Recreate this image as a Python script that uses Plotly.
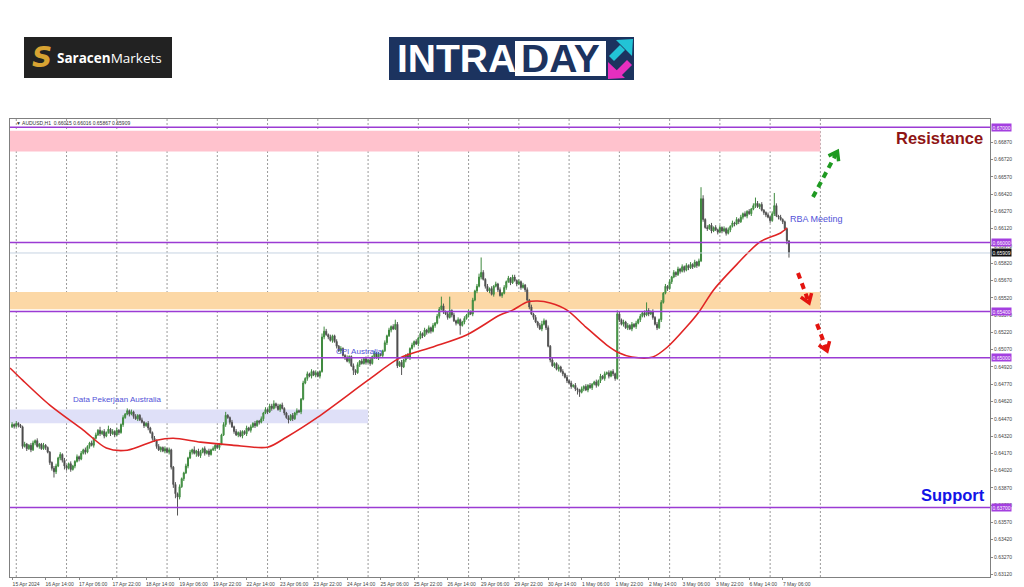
import math
import plotly.graph_objects as go

# ---------------- data ----------------
time_labels = ["15 Apr 2024", "16 Apr 14:00", "17 Apr 06:00", "17 Apr 22:00", "18 Apr 14:00",
               "19 Apr 06:00", "19 Apr 22:00", "22 Apr 14:00", "23 Apr 06:00", "23 Apr 22:00",
               "24 Apr 14:00", "25 Apr 06:00", "25 Apr 22:00", "26 Apr 14:00", "29 Apr 06:00",
               "29 Apr 22:00", "30 Apr 14:00", "1 May 06:00", "1 May 22:00", "2 May 14:00",
               "3 May 06:00", "3 May 22:00", "6 May 14:00", "7 May 06:00"]
label_bars = [0, 16, 32, 48, 64, 80, 96, 112, 128, 144, 160, 176, 192, 208, 224, 240,
              256, 272, 288, 304, 320, 336, 352, 368]
grid_bars = [2, 26, 50, 74, 98, 122, 146, 170, 194, 218, 242, 266, 290, 314, 338, 362, 386]

# hourly closes, in units of 0.00001
first_open = 64400
closes = [
    64420, 64405, 64430, 64415, 64400, 64230, 64250, 64210, 64240, 64200, 64260, 64280, 64230, 64250, 64210, 64240, 64220, 64180, 64090, 64040, 64010, 64060, 64130, 64160,
    64110, 64060, 64040, 64080, 64030, 64060, 64100, 64140, 64120, 64170, 64200, 64180, 64230, 64260, 64240, 64300, 64330, 64370, 64340, 64360, 64320, 64350, 64380, 64340,
    64360, 64330, 64370, 64350, 64420, 64480, 64510, 64540, 64510, 64530, 64490, 64470, 64500, 64460, 64440, 64410, 64430, 64390, 64350, 64300, 64280, 64230, 64200, 64220,
    64190, 64210, 64180, 64200, 64050, 63900, 63820, 63790, 63880, 63950, 64000, 64060, 64130, 64180, 64200, 64170, 64190, 64150, 64180, 64210, 64170, 64190, 64160, 64200,
    64210, 64240, 64220, 64250, 64330, 64420, 64500, 64480, 64440, 64400, 64360, 64330, 64350, 64320, 64360, 64340, 64390, 64370, 64400, 64430, 64410, 64450, 64440, 64470,
    64520, 64550, 64530, 64580, 64560, 64600, 64580, 64550, 64590, 64560, 64520, 64480, 64460, 64500, 64470, 64520, 64540, 64530, 64640, 64780, 64820, 64860, 64840, 64880,
    64850, 64870, 64840, 64880, 65180, 65230, 65200, 65180, 65150, 65190, 65140, 65100, 65060, 65080, 65020, 65000, 64970, 65010, 64930, 64890, 64870, 64940, 64970, 64950,
    64990, 64960, 64980, 64950, 65010, 65040, 65000, 65030, 65020, 65060, 65130, 65190, 65240, 65270, 65250, 65290, 64930, 64960, 64920, 64980, 65020, 65000, 65080, 65110,
    65140, 65120, 65170, 65210, 65190, 65240, 65220, 65260, 65230, 65280, 65300, 65360, 65420, 65450, 65400, 65380, 65350, 65410, 65370, 65320, 65300, 65330, 65280, 65310,
    65340, 65370, 65400, 65380, 65500, 65580, 65620, 65700, 65740, 65680, 65620, 65580, 65600, 65550, 65620, 65640, 65590, 65540, 65560, 65610, 65660, 65690, 65650, 65700,
    65670, 65640, 65660, 65610, 65630, 65590, 65500, 65440, 65380, 65350, 65310, 65280, 65250, 65290, 65320, 65260, 65100, 64980, 64930, 64950, 64900, 64920, 64880, 64860,
    64830, 64800, 64780, 64750, 64760, 64730, 64720, 64700, 64730, 64750, 64720, 64760, 64740, 64770, 64790, 64760, 64800, 64840, 64820, 64860, 64870, 64840, 64880, 64860,
    64820, 65380, 65330, 65290, 65310, 65260, 65280, 65250, 65290, 65270, 65300, 65330, 65360, 65390, 65370, 65410, 65380, 65400, 65350, 65290, 65260, 65330, 65480, 65560,
    65620, 65600, 65660, 65700, 65740, 65720, 65770, 65750, 65790, 65760, 65800, 65780, 65810, 65790, 65830, 65800, 65840, 66380, 66200, 66130, 66120, 66150, 66100, 66130,
    66110, 66090, 66130, 66100, 66120, 66080, 66110, 66140, 66170, 66160, 66200, 66180, 66220, 66250, 66230, 66270, 66250, 66290, 66320, 66340, 66310, 66330, 66280, 66260,
    66240, 66220, 66190, 66250, 66320, 66230, 66220, 66200, 66180, 66120, 66015, 65909,
]
# wick lengths beyond the body, in pips
wick_up = [
    2, 1, 2, 1, 1, 1, 2, 1, 1, 2, 2, 1, 2, 1, 1, 2, 1, 1, 1, 1, 2, 2, 1, 2,
    1, 2, 1, 1, 2, 1, 1, 2, 1, 2, 1, 2, 1, 1, 2, 1, 2, 1, 3, 1, 2, 1, 3, 1,
    2, 1, 2, 1, 1, 2, 1, 2, 1, 2, 1, 2, 1, 1, 2, 1, 1, 2, 1, 1, 2, 1, 2, 1,
    1, 2, 1, 2, 1, 1, 2, 1, 2, 1, 1, 2, 1, 2, 1, 3, 1, 2, 2, 1, 2, 1, 2, 1,
    2, 1, 2, 1, 1, 2, 3, 1, 1, 2, 1, 2, 1, 2, 1, 1, 2, 1, 2, 1, 2, 1, 1, 2,
    1, 2, 1, 2, 2, 3, 1, 2, 1, 2, 1, 1, 2, 1, 2, 1, 2, 1, 1, 2, 1, 2, 1, 2,
    1, 2, 1, 1, 3, 4, 2, 1, 2, 1, 1, 2, 1, 2, 1, 1, 2, 1, 1, 2, 1, 2, 1, 2,
    1, 2, 1, 2, 1, 2, 1, 2, 1, 1, 2, 1, 2, 1, 2, 4, 2, 1, 2, 1, 1, 2, 1, 2,
    1, 2, 1, 2, 1, 2, 1, 2, 1, 2, 1, 2, 2, 8, 2, 1, 2, 12, 1, 2, 1, 2, 1, 1,
    2, 1, 2, 1, 2, 1, 2, 3, 13, 2, 1, 2, 1, 2, 1, 2, 1, 2, 1, 2, 1, 2, 1, 2,
    2, 1, 2, 1, 2, 1, 2, 1, 2, 1, 2, 1, 2, 3, 2, 1, 2, 1, 2, 1, 1, 2, 1, 2,
    1, 2, 1, 2, 1, 2, 1, 1, 2, 1, 2, 1, 2, 1, 1, 2, 1, 2, 1, 2, 1, 2, 1, 2,
    1, 3, 2, 1, 2, 1, 2, 1, 2, 1, 2, 1, 2, 1, 2, 7, 2, 1, 2, 1, 2, 1, 2, 1,
    2, 1, 2, 1, 2, 1, 2, 1, 2, 1, 2, 1, 2, 1, 2, 1, 2, 10, 3, 1, 2, 1, 2, 1,
    2, 1, 2, 1, 2, 1, 2, 1, 2, 1, 2, 1, 2, 1, 2, 1, 2, 1, 2, 5, 2, 1, 2, 1,
    1, 2, 1, 2, 11, 2, 1, 2, 1, 1, 1, 0,
]
wick_dn = [
    1, 2, 1, 2, 1, 2, 1, 2, 1, 2, 1, 2, 1, 2, 1, 1, 2, 1, 2, 2, 5, 2, 1, 2,
    2, 3, 2, 1, 2, 1, 2, 1, 2, 1, 1, 2, 1, 2, 1, 2, 1, 1, 2, 1, 2, 1, 1, 2,
    1, 2, 1, 2, 1, 2, 1, 1, 2, 1, 2, 1, 2, 1, 1, 2, 1, 2, 1, 2, 1, 2, 1, 2,
    1, 2, 1, 2, 2, 3, 4, 16, 2, 1, 2, 1, 2, 1, 2, 1, 3, 1, 2, 1, 2, 1, 2, 1,
    1, 2, 1, 2, 1, 1, 2, 1, 2, 1, 2, 1, 2, 1, 2, 1, 2, 1, 2, 1, 2, 1, 2, 1,
    2, 1, 2, 1, 2, 1, 2, 1, 2, 1, 2, 1, 3, 1, 2, 1, 2, 1, 2, 1, 1, 2, 1, 2,
    1, 2, 1, 2, 1, 2, 1, 2, 1, 2, 1, 2, 1, 2, 1, 2, 1, 2, 1, 4, 2, 1, 2, 1,
    1, 2, 1, 2, 1, 2, 1, 2, 1, 2, 1, 2, 1, 2, 1, 1, 2, 1, 7, 1, 2, 1, 2, 1,
    2, 1, 2, 1, 2, 1, 2, 1, 2, 1, 2, 1, 2, 1, 2, 1, 2, 1, 2, 1, 2, 1, 8, 1,
    2, 1, 2, 1, 2, 1, 2, 1, 2, 1, 2, 1, 2, 1, 2, 1, 2, 1, 2, 1, 2, 1, 2, 1,
    1, 2, 1, 2, 1, 2, 1, 2, 1, 2, 1, 2, 1, 2, 1, 2, 1, 2, 1, 2, 1, 2, 1, 2,
    1, 2, 1, 2, 1, 2, 4, 4, 1, 2, 1, 2, 1, 2, 1, 2, 1, 2, 1, 2, 1, 2, 1, 2,
    2, 1, 2, 1, 2, 1, 2, 1, 2, 1, 2, 1, 2, 1, 2, 1, 2, 1, 2, 1, 2, 1, 2, 1,
    1, 2, 1, 2, 1, 2, 1, 2, 1, 2, 1, 2, 1, 2, 1, 2, 1, 1, 2, 1, 2, 1, 2, 1,
    1, 2, 1, 2, 1, 2, 1, 2, 1, 2, 1, 2, 1, 2, 1, 2, 1, 2, 1, 2, 1, 2, 1, 2,
    2, 1, 2, 1, 2, 1, 2, 1, 2, 2, 3, 4,
]

# red moving average, read at points (bar index, price in 0.00001)
ma_bars = [-1, 5, 18, 34, 45, 55, 69, 77, 90, 105, 122, 131, 146, 170, 185, 201, 217, 233, 239,
           246, 251, 257, 265, 274, 284, 290, 296, 306, 313, 322, 328, 335, 346, 357, 367, 370]
ma_vals = [64911, 64805, 64588, 64371, 64216, 64197, 64284, 64301, 64267, 64241, 64223, 64310,
           64484, 64805, 64996, 65093, 65197, 65370, 65413, 65483, 65492, 65474, 65413, 65266,
           65110, 65041, 65006, 65006, 65093, 65266, 65397, 65588, 65808, 66004, 66083, 66126]

y_ticks = [0.63120, 0.63270, 0.63420, 0.63570, 0.63720, 0.63870, 0.64020, 0.64170, 0.64320,
           0.64470, 0.64620, 0.64770, 0.64920, 0.65070, 0.65220, 0.65370, 0.65520, 0.65670,
           0.65820, 0.65970, 0.66120, 0.66270, 0.66420, 0.66570, 0.66720, 0.66870]
levels = [0.67000, 0.66000, 0.65400, 0.65000, 0.63700]
last_price = 0.65909
zone_low = [0.6679, 0.6542, 0.6443]
zone_high = [0.6697, 0.6557, 0.6455]
zone_end_bar = [386, 386, 170]
zone_colors = ["#ffc2cd", "#fcd8a6", "#dfe0f8"]
title_text = "\u25bc AUDUSD,H1  0.66015 0.66016 0.65867 0.65909"

# ---------------- build OHLC ----------------
opens = [first_open] + closes[:-1]
highs = [max(o, c) + 10 * u for o, c, u in zip(opens, closes, wick_up)]
lows = [min(o, c) - 10 * d for o, c, d in zip(opens, closes, wick_dn)]
bars = list(range(len(closes)))
sc = 1e-5

# ---------------- geometry helpers (pixel -> paper) ----------------
PL, PR, PT, PB = 10, 990, 119, 577


def px(x):
    return (x - PL) / (PR - PL)


def py(y):
    return (PB - y) / (PB - PT)


fig = go.Figure()
fig.add_trace(go.Candlestick(
    x=bars,
    open=[v * sc for v in opens], high=[v * sc for v in highs],
    low=[v * sc for v in lows], close=[v * sc for v in closes],
    increasing=dict(line=dict(color="#3f8a3f", width=1), fillcolor="#4fa64f"),
    decreasing=dict(line=dict(color="#555555", width=1), fillcolor="#2a2a2a"),
    whiskerwidth=0, hoverinfo="skip",
))
fig.add_trace(go.Scatter(
    x=ma_bars, y=[v * sc for v in ma_vals], mode="lines",
    line=dict(color="#e02525", width=1.6, shape="spline", smoothing=0.8),
    hoverinfo="skip",
))

shapes = []
annotations = []

# zones
for lo, hi, xe, col in zip(zone_low, zone_high, zone_end_bar, zone_colors):
    shapes.append(dict(type="rect", xref="x", yref="y", x0=-1, x1=xe, y0=lo, y1=hi,
                       fillcolor=col, line=dict(width=0), layer="below"))
# vertical dotted grid
for g in grid_bars:
    shapes.append(dict(type="line", xref="x", yref="paper", x0=g, x1=g, y0=0, y1=1,
                       line=dict(color="#9a9a9a", width=1, dash="2px,2px"), layer="below"))
# last price line
shapes.append(dict(type="line", xref="paper", yref="y", x0=0, x1=1, y0=last_price, y1=last_price,
                   line=dict(color="#c6d3e2", width=1)))
# level lines
for lv in levels:
    shapes.append(dict(type="line", xref="paper", yref="y", x0=0, x1=1, y0=lv, y1=lv,
                       line=dict(color="#9b3bd4", width=1.5)))
    annotations.append(dict(xref="paper", yref="y", x=1, y=lv, xanchor="left", yanchor="middle",
                             xshift=1, text=f"{lv:.5f}", showarrow=False, bgcolor="#a43fe0",
                             font=dict(size=5, color="white", family="Liberation Sans"), borderpad=0.5))
annotations.append(dict(xref="paper", yref="y", x=1, y=last_price, xanchor="left", yanchor="middle",
                        xshift=1, text=f"{last_price:.5f}", showarrow=False, bgcolor="#111111",
                        font=dict(size=5, color="white", family="Liberation Sans"), borderpad=0.5))


def ptxt(x, y, text, size, color, anchor="left", family="Liberation Sans"):
    annotations.append(dict(xref="paper", yref="paper", x=px(x), y=py(y), xanchor=anchor,
                            yanchor="middle", text=text, showarrow=False,
                            font=dict(size=size, color=color, family=family)))


def prect(x0, y0, x1, y1, color):
    shapes.append(dict(type="rect", xref="paper", yref="paper", x0=px(x0), x1=px(x1),
                       y0=py(y1), y1=py(y0), fillcolor=color, line=dict(width=0), layer="above"))


def ppath(points, color):
    d = "M " + " L ".join(f"{px(a):.5f},{py(b):.5f}" for a, b in points) + " Z"
    shapes.append(dict(type="path", xref="paper", yref="paper", path=d, fillcolor=color,
                       line=dict(width=0)))


def dashed_arrow(x0, y0, x1, y1, color):
    shapes.append(dict(type="line", xref="paper", yref="paper", x0=px(x0), y0=py(y0),
                       x1=px(x1), y1=py(y1), line=dict(color=color, width=4, dash="6px,5px")))
    dx, dy = x1 - x0, y1 - y0
    n = math.hypot(dx, dy)
    dx, dy = dx / n, dy / n
    tipx, tipy = x1 + 3 * dx, y1 + 3 * dy
    pts = []
    for ang in (35, -35):
        a = math.radians(ang)
        rx = dx * math.cos(a) - dy * math.sin(a)
        ry = dx * math.sin(a) + dy * math.cos(a)
        pts.append((tipx - 10 * rx, tipy - 10 * ry))
    d = (f"M {px(pts[0][0]):.5f},{py(pts[0][1]):.5f} L {px(tipx):.5f},{py(tipy):.5f} "
         f"L {px(pts[1][0]):.5f},{py(pts[1][1]):.5f}")
    shapes.append(dict(type="path", xref="paper", yref="paper", path=d,
                       line=dict(color=color, width=3.5)))


# chart arrows
dashed_arrow(813, 197, 836, 154, "#1f9a22")
dashed_arrow(798, 273, 808, 300, "#e3140f")
dashed_arrow(817, 324, 826, 348, "#e3140f")

# chart texts
ptxt(14, 122.5, title_text, 5, "#333333")
ptxt(985, 138, "<b>Resistance</b>", 16.5, "#8e1414", anchor="right")
ptxt(987, 495, "<b>Support</b>", 16.5, "#1212e6", anchor="right")
ptxt(788, 218.5, "RBA Meeting", 9, "#5252d8")
ptxt(334, 351, "CPI Australia", 8, "#5252d8")
ptxt(71, 399.5, "Data Pekerjaan Australia", 8, "#5252d8")

# Saracen Markets logo
prect(24, 37, 172, 78, "#222222")
ptxt(42, 57, "<b><i>S</i></b>", 28, "#d8a332", anchor="center", family="DejaVu Sans")
ptxt(55, 57.5, "<b>Saracen</b>Markets", 13.5, "#ffffff", family="Open Sans")

# INTRADAY logo
prect(389, 37, 634, 80, "#1c335f")
prect(515, 41, 606, 76, "#ffffff")
ptxt(395, 59, "<b>INTRA</b>", 39, "#ffffff", family="Liberation Sans")
ptxt(560.5, 59, "<b>DAY</b>", 39, "#1c335f", anchor="center", family="Liberation Sans")
ppath([(609, 56), (614, 61), (625, 50), (620, 45)], "#22c3d6")
ppath([(616, 40), (633, 39), (632, 56)], "#22c3d6")
ppath([(616, 71), (621, 76), (632, 65), (627, 60)], "#e62fbf")
ppath([(608, 79), (608, 62), (625, 78)], "#e62fbf")

fig.update_layout(
    width=1024, height=587, template="none",
    margin=dict(l=PL, r=1024 - PR, t=PT, b=587 - PB),
    paper_bgcolor="white", plot_bgcolor="white", showlegend=False,
    shapes=shapes, annotations=annotations,
    xaxis=dict(range=[-1, 467], showgrid=False, zeroline=False, showline=True,
               linecolor="#808080", linewidth=1, mirror=True, automargin=False,
               tickvals=label_bars, ticktext=time_labels, ticks="outside", ticklen=2,
               tickcolor="#888888", ticklabelshift=14,
               tickfont=dict(size=5, color="#444444", family="Liberation Sans"),
               rangeslider=dict(visible=False), fixedrange=True),
    yaxis=dict(range=[0.630964, 0.670720], side="right", showgrid=False, zeroline=False,
               showline=True, linecolor="#808080", linewidth=1, mirror=True, automargin=False,
               tickvals=y_ticks, ticktext=[f"{v:.5f}" for v in y_ticks], ticks="outside",
               ticklen=2, tickcolor="#888888",
               tickfont=dict(size=5, color="#444444", family="Liberation Sans"), fixedrange=True),
)

fig.write_html("out.html", config={"displayModeBar": False},
               post_script="document.body.style.margin='0px';document.body.style.overflow='hidden';")
